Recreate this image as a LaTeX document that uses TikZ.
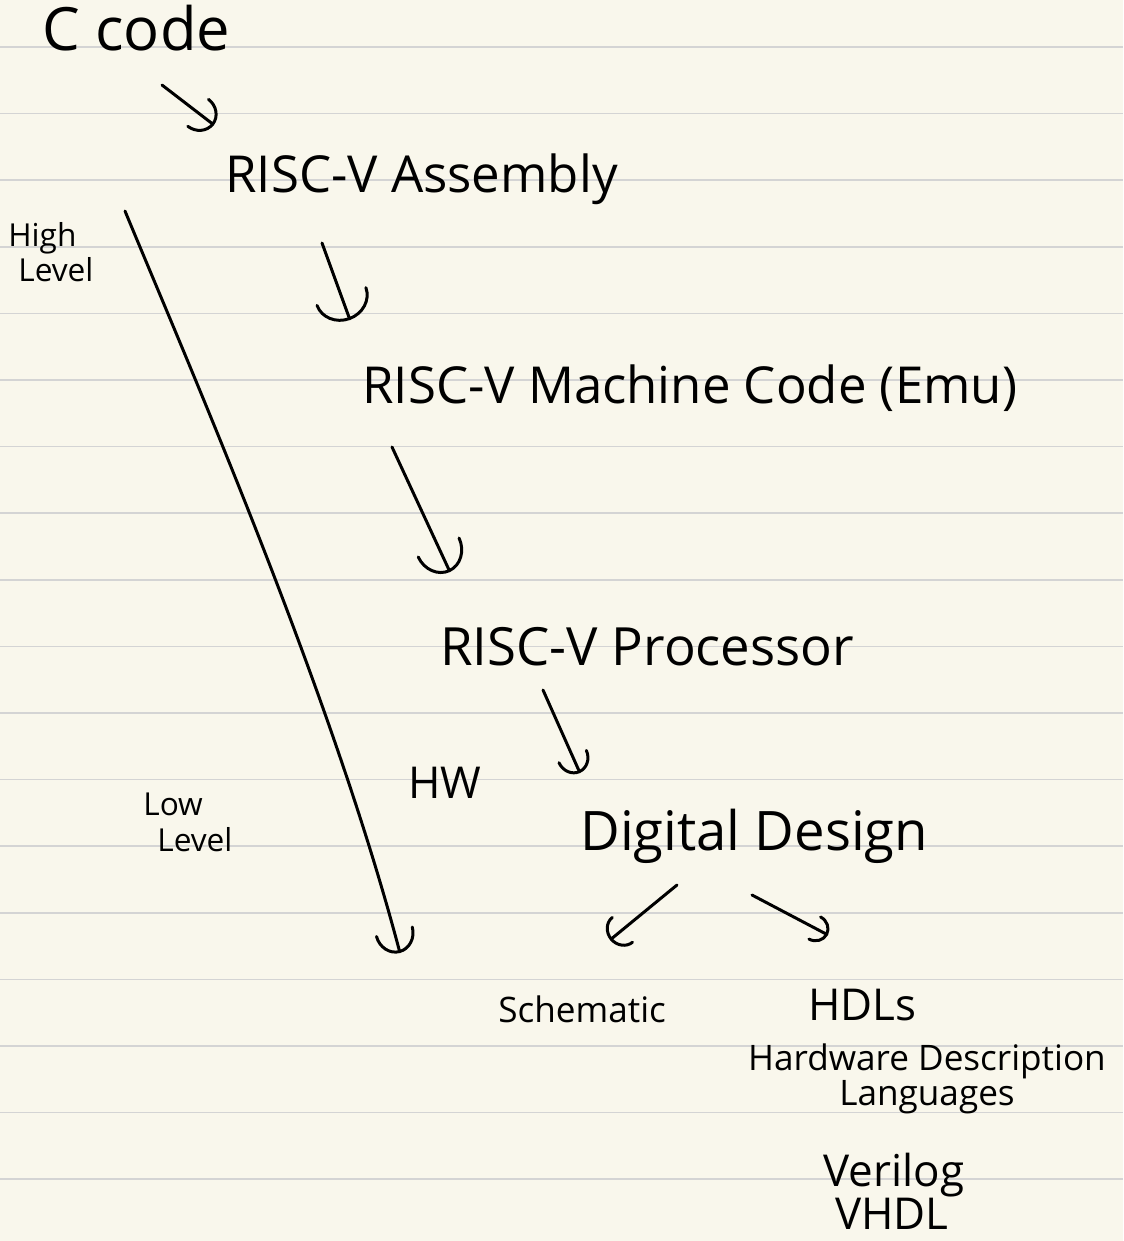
\documentclass[tikz,border=0pt]{standalone}
\usepackage{fontspec}
\setmainfont{Open Sans}
\usetikzlibrary{positioning, arrows.meta}
\definecolor{paper}{RGB}{249,247,236}
\definecolor{ruling}{RGB}{212,212,212}

\begin{document}
\begin{tikzpicture}[
    x=0.02cm, y=-0.02cm,
    note/.style={inner sep=0pt, text=black},
    huge/.style={note, font=\fontsize{34pt}{38pt}\selectfont},
    big/.style={note, font=\fontsize{29pt}{34pt}\selectfont},
    mid/.style={note, font=\fontsize{25pt}{29pt}\selectfont},
    small/.style={note, font=\fontsize{20pt}{19pt}\selectfont, align=center},
    tiny/.style={note, font=\fontsize{18pt}{20pt}\selectfont, align=left},
    hand/.style={line width=1.7pt, line cap=round, line join=round},
    hook/.style 2 args={hand, -{Arc Barb[length=#1, width=#2, round]}}
  ]
    % paper
    \fill[paper] (0,0) rectangle (1123,1241);
    \useasboundingbox (0,0) rectangle (1123,1241);
    \foreach \k in {0,...,17}
      \draw[ruling, line width=1pt] (0,47+66.6*\k) -- (1123,47+66.6*\k);

    % chain of levels
    \node[huge, anchor=base west] (ccode) at (42,50) {C code};
    \node[big, anchor=base west] (asm) at (225,192) {RISC-V Assembly};
    \node[big, anchor=base west] (mc) at (362,403) {RISC-V Machine Code (Emu)};
    \node[font=\fontsize{30pt}{34pt}\selectfont, note, anchor=base west] (proc) at (440,665) {RISC-V Processor};
    \node[font=\fontsize{31pt}{36pt}\selectfont, note, anchor=base west] (dd) at (580,850) {Digital Design};
    \node[small, anchor=base west] (sch) at (498,1022) {Schematic};
    \node[mid, anchor=base west] (hdl) at (808,1020) {HDLs};
    \node[small, anchor=north] (hdldesc) at (927,1043) {Hardware Description\\Languages};
    \node[mid, anchor=base] (verilog) at (894,1186) {Verilog};
    \node[mid, anchor=base] (vhdl) at (892,1229) {VHDL};

    % side notes
    \node[tiny, anchor=north west] (high) at (8,222) {High\\\hspace*{0.2cm}Level};
    \node[tiny, anchor=north west] (low) at (143,793) {Low\\\hspace*{0.28cm}Level};
    \node[mid, anchor=base west] (hw) at (408,798) {HW};

    \draw[hook={0.4cm}{0.74cm}] ([shift={(120,35)}]ccode.base west) -- ([shift={(-11,-67)}]asm.base west);
    \draw[hook={0.5cm}{1.1cm}] ([shift={(97,51)}]asm.base west) -- ([shift={(-12,-83)}]mc.base west);
    \draw[hook={0.54cm}{0.96cm}] ([shift={(30,44)}]mc.base west) -- ([shift={(10,-93)}]proc.base west);
    \draw[hook={0.36cm}{0.66cm}] ([shift={(103,25)}]proc.base west) -- ([shift={(0,-77)}]dd.base west);
    \draw[hook={0.32cm}{0.7cm}] ([shift={(97,35)}]dd.base west) -- ([shift={(112,-82)}]sch.base west);
    \draw[hook={0.3cm}{0.56cm}] ([shift={(172,45)}]dd.base west) -- ([shift={(20,-85)}]hdl.base west);
    \draw[hook={0.44cm}{0.8cm}] ([shift={(117,-11)}]high.north west)
      .. controls +(65,157) and +(-70,-265) .. ([shift={(257,160)}]low.north west);
  \end{tikzpicture}
\end{document}
